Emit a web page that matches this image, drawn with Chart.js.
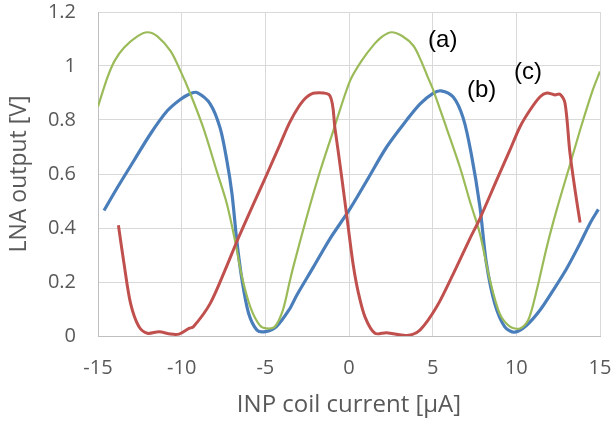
<!DOCTYPE html>
<html>
<head>
<meta charset="utf-8">
<script src="https://cdn.jsdelivr.net/npm/chart.js@4"></script>
<style>
  html, body { margin: 0; padding: 0; background: #ffffff; overflow: hidden; }
  #wrap { width: 614px; height: 423px; position: relative; }
</style>
</head>
<body>
<div id="wrap"><canvas id="c"></canvas></div>
<script>
// ---- data ----
const xTicks = [-15, -10, -5, 0, 5, 10, 15];
const xTickLabels = ['-15', '-10', '-5', '0', '5', '10', '15'];
const yTicks = [0, 0.2, 0.4, 0.6, 0.8, 1, 1.2];
const yTickLabels = ['0', '0.2', '0.4', '0.6', '0.8', '1', '1.2'];

// series (a) green
const aX = [-15, -14.44, -14.0, -13.45, -12.65, -12.05, -11.45, -10.66, -10.06, -9.5, -8.7, -7.9, -7.3, -6.8, -6.4, -5.9, -5.34, -4.94, -4.44, -3.95, -3.55, -3.33, -2.53, -1.73, -0.94, 0.06, 0.76, 1.5, 2.0, 2.55, 3.2, 3.85, 4.3, 4.7, 5.04, 5.83, 6.63, 7.22, 7.82, 8.41, 9.0, 9.62, 10.22, 10.72, 11.22, 11.82, 12.41, 13.17, 13.87, 14.56, 15];
const aY = [0.85, 0.957, 1.02, 1.068, 1.11, 1.125, 1.11, 1.055, 0.98, 0.90, 0.77, 0.61, 0.49, 0.35, 0.22, 0.108, 0.04, 0.028, 0.034, 0.096, 0.2, 0.256, 0.44, 0.61, 0.76, 0.945, 1.02, 1.08, 1.11, 1.125, 1.11, 1.075, 1.02, 0.96, 0.91, 0.77, 0.625, 0.50, 0.38, 0.21, 0.084, 0.035, 0.028, 0.06, 0.17, 0.33, 0.467, 0.627, 0.775, 0.91, 0.98];

// series (b) blue
const bX = [-14.64, -13.84, -12.85, -11.85, -10.86, -10.06, -9.46, -9.1, -8.3, -7.7, -7.3, -7.0, -6.7, -6.4, -6.0, -5.5, -5.0, -4.35, -3.55, -3.13, -2.13, -1.14, 0, 1.06, 2.25, 3.45, 4.25, 5.0, 5.5, 6.23, 6.83, 7.32, 7.82, 8.21, 8.71, 9.31, 9.9, 10.62, 11.42, 12.21, 13.01, 13.81, 14.4, 14.9];
const bY = [0.465, 0.55, 0.65, 0.75, 0.834, 0.877, 0.898, 0.902, 0.86, 0.77, 0.65, 0.53, 0.35, 0.21, 0.084, 0.022, 0.016, 0.034, 0.10, 0.15, 0.255, 0.36, 0.465, 0.575, 0.70, 0.80, 0.86, 0.898, 0.908, 0.885, 0.806, 0.67, 0.48, 0.27, 0.12, 0.034, 0.014, 0.04, 0.096, 0.17, 0.25, 0.343, 0.417, 0.469];

// series (c) red
const cX = [-13.78, -13.45, -13.05, -12.55, -12.05, -11.35, -10.66, -10.16, -9.56, -9.3, -8.3, -7.3, -6.7, -5.7, -4.9, -4.12, -3.55, -3.0, -2.53, -2.03, -1.14, -0.84, -0.44, -0.04, 0.26, 0.56, 0.96, 1.55, 2.25, 3.45, 4.24, 5.24, 6.23, 7.22, 7.83, 8.83, 9.62, 10.22, 10.82, 11.42, 11.82, 12.31, 12.6, 12.91, 13.2, 13.51, 13.81];
const cY = [0.41, 0.27, 0.12, 0.034, 0.01, 0.016, 0.007, 0.007, 0.028, 0.034, 0.12, 0.26, 0.35, 0.49, 0.60, 0.71, 0.79, 0.85, 0.885, 0.90, 0.89, 0.77, 0.59, 0.40, 0.26, 0.16, 0.07, 0.01, 0.012, 0.002, 0.022, 0.108, 0.23, 0.36, 0.436, 0.578, 0.689, 0.775, 0.837, 0.886, 0.90, 0.893, 0.896, 0.862, 0.68, 0.54, 0.42];

// curve labels
const noteText = ['(a)', '(b)', '(c)'];
const noteX = [5.6, 7.93, 10.7];
const noteY = [1.096, 0.911, 0.978];

const xTitle = 'INP coil current [\u03BCA]';
const yTitle = 'LNA output [V]';

// ---- build ----
const pts = (xs, ys) => xs.map((x, i) => ({ x: x, y: ys[i] }));

const notesPlugin = {
  id: 'notes',
  afterDatasetsDraw(chart) {
    const ctx = chart.ctx;
    const xs = chart.scales.x, ys = chart.scales.y;
    ctx.save();
    ctx.fillStyle = '#000000';
    ctx.font = '24px "Liberation Sans", Arial, sans-serif';
    ctx.textAlign = 'center';
    ctx.textBaseline = 'middle';
    noteText.forEach((t, i) => {
      ctx.fillText(t, xs.getPixelForValue(noteX[i]), ys.getPixelForValue(noteY[i]));
    });
    ctx.restore();
  }
};

const tickFont = { family: '"Open Sans", sans-serif', size: 20 };
const gray = '#595959';

new Chart(document.getElementById('c'), {
  type: 'scatter',
  data: {
    datasets: [
      { label: '(c)', data: pts(cX, cY), showLine: true, borderColor: '#C0504D', borderWidth: 3, pointRadius: 0, tension: 0.3 },
      { label: '(a)', data: pts(aX, aY), showLine: true, borderColor: '#9BBB59', borderWidth: 2.2, pointRadius: 0, tension: 0.3 },
      { label: '(b)', data: pts(bX, bY), showLine: true, borderColor: '#4A7EBB', borderWidth: 3.2, pointRadius: 0, tension: 0.3 }
    ]
  },
  options: {
    responsive: true,
    maintainAspectRatio: false,
    animation: false,
    layout: { padding: { top: 12, right: 14, left: 0, bottom: 0 } },
    plugins: { legend: { display: false }, tooltip: { enabled: false } },
    scales: {
      x: {
        type: 'linear', min: -15, max: 15,
        afterBuildTicks: (s) => { s.ticks = xTicks.map(v => ({ value: v })); },
        afterFit: (s) => { s.height = 87; s.paddingLeft = 0; s.paddingRight = 0; },
        ticks: { color: gray, font: tickFont, padding: 20, maxRotation: 0,
                 callback: (v) => { const i = xTicks.indexOf(v); return i >= 0 ? xTickLabels[i] : ''; } },
        grid: { color: '#d9d9d9', lineWidth: 1, drawTicks: false },
        border: { color: '#bfbfbf', width: 1 },
        title: { display: true, text: xTitle, color: gray, font: { family: '"Open Sans", sans-serif', size: 24 }, padding: { top: 0, bottom: 3 } }
      },
      y: {
        type: 'linear', min: 0, max: 1.2,
        afterBuildTicks: (s) => { s.ticks = yTicks.map(v => ({ value: v })); },
        afterFit: (s) => { s.width = 98; s.paddingTop = 0; s.paddingBottom = 0; },
        ticks: { color: gray, font: tickFont, padding: 22,
                 callback: (v) => { const i = yTicks.findIndex(t => Math.abs(t - v) < 1e-9); return i >= 0 ? yTickLabels[i] : ''; } },
        grid: { color: '#d9d9d9', lineWidth: 1, drawTicks: false },
        border: { color: '#bfbfbf', width: 1 },
        title: { display: true, text: yTitle, color: gray, font: { family: '"Open Sans", sans-serif', size: 23 }, padding: { top: 6, bottom: 0 } }
      }
    }
  },
  plugins: [notesPlugin]
});
</script>
</body>
</html>
